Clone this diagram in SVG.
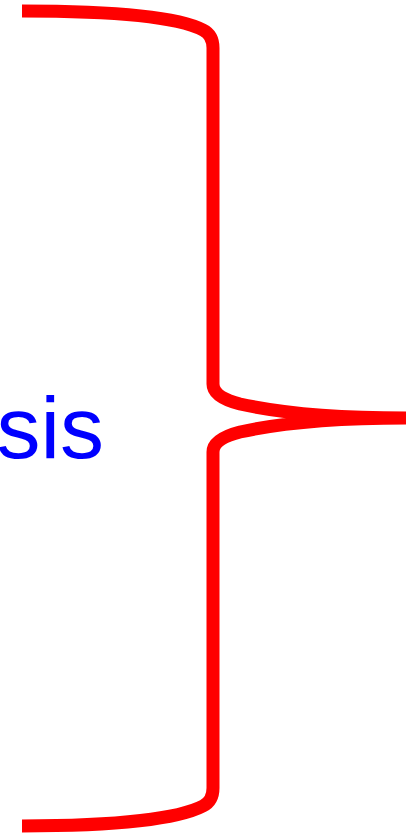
<svg xmlns="http://www.w3.org/2000/svg" width="406" height="836" viewBox="0 0 406 836">
<style>
.brace{fill:none;stroke:#ff0000;stroke-width:13;stroke-linejoin:round;stroke-linecap:butt}
.lbl{font-family:"Liberation Sans",Arial,sans-serif;font-size:88px;fill:#0000ff}
</style>
<rect width="406" height="836" fill="#ffffff"/>
<g id="label"><text class="lbl" x="104" y="458" text-anchor="end">sis</text></g>
<g id="connectors">
<path class="brace" d="M22,11 C120,11 180,18 203,30 Q213,35 213,48 L213,384 Q213,397 240,404 C290,415 350,418 406,418 C350,418 290,421 240,432 Q213,439 213,452 L213,788 Q213,801 203,806 C180,818 120,826 22,826"/>
</g>
</svg>
